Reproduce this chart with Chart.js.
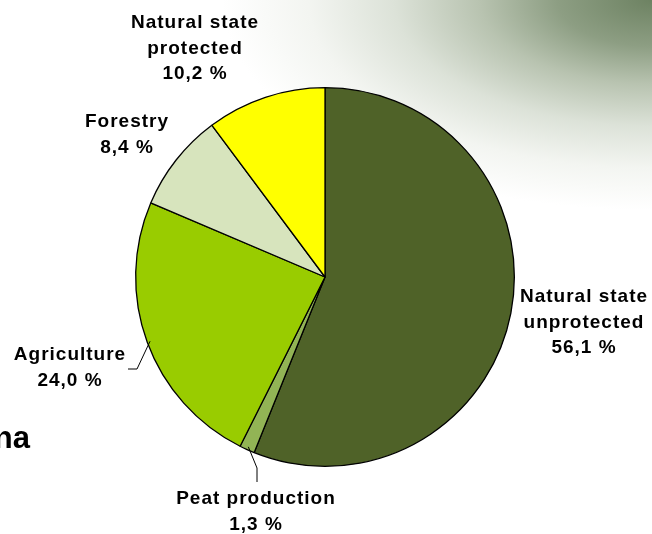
<!DOCTYPE html>
<html>
<head>
<meta charset="utf-8">
<script src="https://cdn.jsdelivr.net/npm/chart.js@4.4.1/dist/chart.umd.min.js"></script>
<style>
  html, body { margin: 0; padding: 0; }
  body {
    width: 652px; height: 534px; overflow: hidden;
    background: radial-gradient(ellipse 430px 210px at 100% 0%, #6d8262 0%, #8d9e83 22%, #b8c3b0 40%, #dce2d8 60%, #f3f5f1 80%, #ffffff 100%);
  }
  #wrap { position: relative; width: 652px; height: 534px; }
</style>
</head>
<body>
<div id="wrap"><canvas id="myChart" width="652" height="534"></canvas></div>
<script>
const gCategories = ['Natural state unprotected', 'Peat production', 'Agriculture', 'Forestry', 'Natural state protected']
const gValues = [56.1, 1.3, 24.0, 8.4, 10.2]
const gLabelLines = [
  ['Natural state', 'unprotected', '56,1 %'],
  ['Peat production', '1,3 %'],
  ['Agriculture', '24,0 %'],
  ['Forestry', '8,4 %'],
  ['Natural state', 'protected', '10,2 %']
]
const gColors = ['#4f6228', '#92b455', '#99cc00', '#d7e4bd', '#ffff00']

// where each label block sits (center x, first line y)
const gLabelAt = [[584, 297], [256, 499], [70, 355], [127, 122], [195, 23]]
// leader line bends (only for the two labels that have one)
const gLeaders = { 1: [[257, 468], [257, 482]], 2: [[137, 369], [128, 369]] }

const labelPlugin = {
  id: 'outsideLabels',
  afterDatasetsDraw(chart) {
    const ctx = chart.ctx
    const meta = chart.getDatasetMeta(0)
    ctx.save()
    // leader lines from the arc edge
    ctx.strokeStyle = '#000'
    ctx.lineWidth = 1
    Object.keys(gLeaders).forEach(k => {
      const arc = meta.data[k]
      const mid = (arc.startAngle + arc.endAngle) / 2
      ctx.beginPath()
      ctx.moveTo(arc.x + (arc.outerRadius - 3) * Math.cos(mid), arc.y + (arc.outerRadius - 3) * Math.sin(mid))
      gLeaders[k].forEach(p => ctx.lineTo(p[0], p[1]))
      ctx.stroke()
    })
    // labels
    ctx.fillStyle = '#000'
    ctx.font = 'bold 19px "Liberation Sans", Arial, sans-serif'
    ctx.letterSpacing = '1px'
    ctx.textAlign = 'center'
    ctx.textBaseline = 'middle'
    gLabelLines.forEach((lines, i) => {
      const [x, y] = gLabelAt[i]
      lines.forEach((t, j) => ctx.fillText(t, x, y + j * 25.5))
    })
    // clipped title text on the left edge
    ctx.letterSpacing = '0px'
    ctx.font = 'bold 31px "Liberation Sans", Arial, sans-serif'
    ctx.textAlign = 'right'
    ctx.textBaseline = 'alphabetic'
    ctx.fillText('na', 30, 448)
    ctx.restore()
  }
}

const ctx = document.getElementById('myChart').getContext('2d')
new Chart(ctx, {
  type: 'pie',
  data: {
    labels: gCategories,
    datasets: [{
      data: gValues,
      backgroundColor: gColors,
      borderColor: '#000',
      borderWidth: 1.3
    }]
  },
  options: {
    responsive: false,
    animation: false,
    layout: { padding: { top: 87, bottom: 67, left: 135, right: 137 } },
    plugins: {
      legend: { display: false },
      tooltip: { enabled: false }
    }
  },
  plugins: [labelPlugin]
})
</script>
</body>
</html>
